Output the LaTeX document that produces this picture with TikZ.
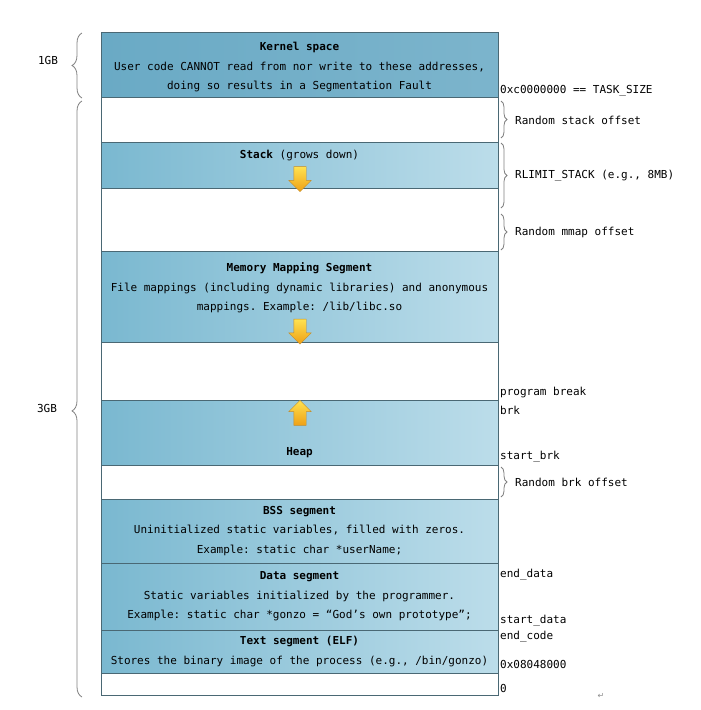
\documentclass[tikz,border=0pt]{standalone}
\usepackage{fontspec}
\setmonofont{DejaVu Sans Mono}
\newfontfamily\symfont{DejaVu Sans}
\usetikzlibrary{shapes.arrows,decorations.pathreplacing}

\definecolor{kernelblue}{RGB}{106,170,197}
\definecolor{segdark}{RGB}{122,184,208}
\definecolor{seglight}{RGB}{188,221,234}
\definecolor{segline}{RGB}{74,104,116}
\definecolor{bracegray}{RGB}{128,128,128}
\definecolor{arrowtop}{RGB}{255,226,80}
\definecolor{arrowbot}{RGB}{238,160,22}
\definecolor{arrowline}{RGB}{196,140,40}

\newcommand{\memfont}{\ttfamily\fontsize{11}{19.5}\selectfont}

\begin{document}
\begin{tikzpicture}[
  x=1pt, y=-1pt,
  segbox/.style={draw=segline, line width=0.8pt, left color=segdark, right color=seglight, minimum width=397pt, inner sep=0pt, align=center, font=\memfont},
  kernelbox/.style={segbox, left color=kernelblue, right color=kernelblue!88!white},
  gapbox/.style={draw=segline, line width=0.8pt, fill=white, minimum width=397pt, inner sep=0pt},
  segtext/.style={font=\memfont, align=center, inner sep=0pt},
  sidelabel/.style={font=\memfont, anchor=west, inner sep=0pt},
  growarrow/.style={single arrow, draw=arrowline, line width=0.4pt, top color=arrowtop, bottom color=arrowbot, minimum height=25pt, minimum width=22pt, single arrow head extend=5pt, inner sep=6pt},
  rbrace/.style={decorate, decoration={brace, amplitude=6pt}, draw=bracegray, line width=0.8pt},
  lbrace/.style={decorate, decoration={brace, amplitude=10pt}, draw=bracegray, line width=0.8pt}
]
  \useasboundingbox[fill=white] (0,0) rectangle (701,710);

  % the segments, from the top of the address space down
  \node[kernelbox, minimum height=65pt] (kernel) at (299.5,64.5) {};
  \node[gapbox, minimum height=45pt] (stackgap) at (299.5,119.5) {};
  \node[segbox, minimum height=46pt] (stack) at (299.5,165) {};
  \node[gapbox, minimum height=63pt] (mmapgap) at (299.5,219.5) {};
  \node[segbox, minimum height=91pt] (mmap) at (299.5,296.5) {};
  \node[gapbox, minimum height=58pt] (heapgap) at (299.5,371) {};
  \node[segbox, minimum height=65pt] (heap) at (299.5,432.5) {};
  \node[gapbox, minimum height=34pt] (brkgap) at (299.5,482) {};
  \node[segbox, minimum height=64pt] (bss) at (299.5,531) {\textbf{BSS segment}\\Uninitialized static variables, filled with zeros.\\Example: static char *userName;};
  \node[segbox, minimum height=67pt] (data) at (299.5,596.5) {\textbf{Data segment}\\Static variables initialized by the programmer.\\Example: static char *gonzo = “God’s own prototype”;};
  \node[segbox, minimum height=43pt] (text) at (299.5,651.5) {\textbf{Text segment (ELF)}\\Stores the binary image of the process (e.g., /bin/gonzo)};
  \node[gapbox, minimum height=22pt] (zerogap) at (299.5,684) {};

  % texts and growth arrows inside the segments
  \node[segtext] (kerneltext) at (299.5,67) {\textbf{Kernel space}\\User code CANNOT read from nor write to these addresses,\\doing so results in a Segmentation Fault};
  \node[segtext] (stacktitle) at (299.5,155) {\textbf{Stack} (grows down)};
  \node[growarrow, shape border rotate=270] (stackarrow) at (300,176) {};
  \node[segtext] (mmaptitle) at (299.5,288) {\textbf{Memory Mapping Segment}\\File mappings (including dynamic libraries) and anonymous\\mappings. Example: /lib/libc.so};
  \node[growarrow, shape border rotate=270] (mmaparrow) at (300,328.5) {};
  \node[growarrow, shape border rotate=90] (heaparrow) at (300,416) {};
  \node[segtext] (heaptitle) at (299.5,453) {\textbf{Heap}};

  % braces on the right
  \coordinate (rso a) at (501,101);
  \coordinate (rso b) at (501,138);
  \coordinate (rls a) at (501,143);
  \coordinate (rls b) at (501,208);
  \coordinate (rmo a) at (501,214);
  \coordinate (rmo b) at (501,250);
  \coordinate (rbo a) at (501,467);
  \coordinate (rbo b) at (501,497);
  \draw[rbrace] (rso a) -- (rso b);
  \draw[rbrace] (rls a) -- (rls b);
  \draw[rbrace] (rmo a) -- (rmo b);
  \draw[rbrace] (rbo a) -- (rbo b);

  \node[sidelabel] (tasksize) at (500,91) {0xc0000000 == TASK\_SIZE};
  \node[sidelabel] (stackoff) at (515,120) {Random stack offset};
  \node[sidelabel] (rlimit) at (515,176) {RLIMIT\_STACK (e.g., 8MB)};
  \node[sidelabel] (mmapoff) at (515,232) {Random mmap offset};
  \node[sidelabel] (pbreak) at (500,392) {program break};
  \node[sidelabel] (brk) at (500,410) {brk};
  \node[sidelabel] (startbrk) at (500,457) {start\_brk};
  \node[sidelabel] (brkoff) at (515,482) {Random brk offset};
  \node[sidelabel] (enddata) at (500,575) {end\_data};
  \node[sidelabel] (startdata) at (500,621) {start\_data};
  \node[sidelabel] (endcode) at (500,637) {end\_code};
  \node[sidelabel] (textstart) at (500,664) {0x08048000};
  \node[sidelabel] (zero) at (500,688) {0};

  % braces on the left
  \coordinate (gb1 a) at (82,98);
  \coordinate (gb1 b) at (82,33);
  \coordinate (gb3 a) at (82,697);
  \coordinate (gb3 b) at (82,101);
  \draw[lbrace] (gb1 a) -- (gb1 b);
  \draw[lbrace, decoration={aspect=0.48}] (gb3 a) -- (gb3 b);
  \node[segtext] (onegb) at (48,60) {1GB};
  \node[segtext] (threegb) at (47,408) {3GB};

  \node[font=\symfont\fontsize{8}{8}\selectfont, text=black!45] (retmark) at (601,696) {↵};
\end{tikzpicture}
\end{document}
